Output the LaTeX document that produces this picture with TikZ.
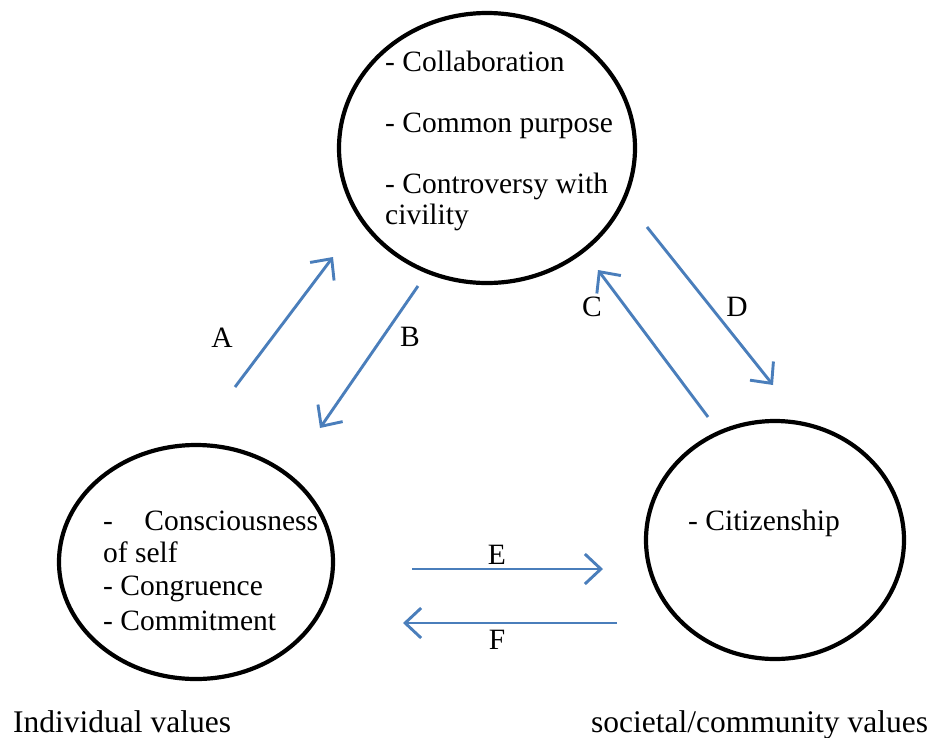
\documentclass[tikz,border=0pt]{standalone}
\usepackage{fontspec}
\setmainfont{Liberation Serif}
\usetikzlibrary{shapes.geometric,arrows.meta}

\definecolor{linkblue}{HTML}{4A7EBB}

\tikzset{
	txt/.style={anchor=base west, inner sep=0pt, font=\fontsize{29.5}{33}\selectfont},
	captxt/.style={anchor=base west, inner sep=0pt, font=\fontsize{31.5}{35}\selectfont},
	lbl/.style={inner sep=0pt, font=\fontsize{29.5}{33}\selectfont},
	valuering/.style={ellipse, draw, line width=4.2pt, inner sep=0pt},
	link/.style={draw=linkblue, line width=2.9pt,
		-{Straight Barb[length=16pt, width=30pt, line width=2.9pt]}}
}

\begin{document}
\begin{tikzpicture}[x=1pt, y=-1pt]

		\useasboundingbox (0,0) rectangle (939,737);

		% the three value circles
		\node[valuering, minimum width=296pt, minimum height=270pt] (group) at (487,148) {};
		\node[valuering, minimum width=274pt, minimum height=234pt] (indiv) at (196,562) {};
		\node[valuering, minimum width=258pt, minimum height=238pt] (society) at (775,540) {};

		% group values
		\node[txt] (g1) at (385,71) {- Collaboration};
		\node[txt] (g2) at (385,132) {- Common purpose};
		\node[txt] (g3) at (385,193) {- Controversy with};
		\node[txt] (g4) at (385,224) {civility};

		% individual values
		\node[txt] (i1) at (103,530) {\makebox[215pt][s]{- Consciousness}};
		\node[txt] (i2) at (103,562) {of self};
		\node[txt] (i3) at (103,595) {- Congruence};
		\node[txt] (i4) at (103,630) {- Commitment};

		% societal values
		\node[txt] (s1) at (688,530) {- Citizenship};

		% captions
		\node[captxt] (capI) at (13,732) {Individual values};
		\node[captxt] (capS) at (591,732) {societal/community values};

		% arrow ends
		\coordinate (aS) at (235,387);
		\coordinate (aE) at (333,257);
		\coordinate (bS) at (418,286);
		\coordinate (bE) at (320,428);
		\coordinate (cS) at (708,417);
		\coordinate (cE) at (598,270);
		\coordinate (dS) at (647,227);
		\coordinate (dE) at (773,385);
		\coordinate (eS) at (412,569);
		\coordinate (eE) at (603,569);
		\coordinate (fS) at (617,623);
		\coordinate (fE) at (403,623);

		\draw[link] (aS) -- (aE);
		\draw[link] (bS) -- (bE);
		\draw[link] (cS) -- (cE);
		\draw[link] (dS) -- (dE);
		\draw[link] (eS) -- (eE);
		\draw[link] (fS) -- (fE);

		\node[lbl] (A) at (222,338) {A};
		\node[lbl] (B) at (410,337) {B};
		\node[lbl] (C) at (592,307) {C};
		\node[lbl] (D) at (737,307) {D};
		\node[lbl] (E) at (497,555) {E};
		\node[lbl] (F) at (497,640) {F};

	\end{tikzpicture}
\end{document}
